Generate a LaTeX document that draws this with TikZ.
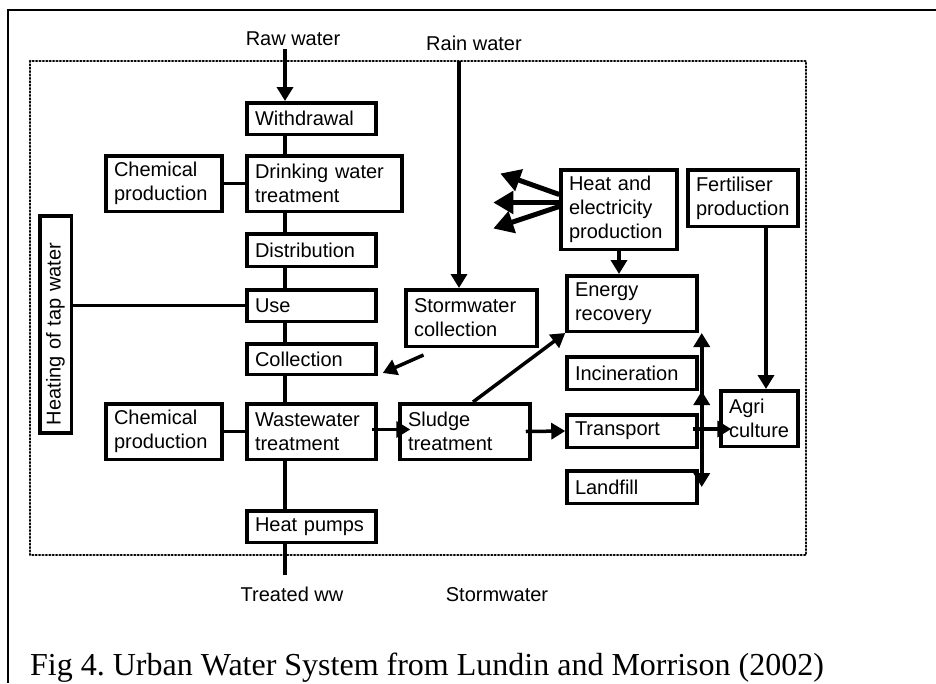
\documentclass[tikz,border=0pt]{standalone}
\usepackage{fontspec}
\setmainfont{Liberation Sans}
\newfontfamily\capfont{Liberation Serif}
\usetikzlibrary{arrows.meta}

\begin{document}
\begin{tikzpicture}[x=1pt, y=-1pt,
  blk/.style={draw, line width=3.5pt, inner xsep=8pt, inner ysep=0pt, align=left, font=\fontsize{20}{24}\selectfont},
  lbl/.style={anchor=base, inner sep=0pt, font=\fontsize{20}{24}\selectfont},
  link/.style={line width=3.5pt},
  arr/.style={line width=3.5pt, -{Triangle[length=14pt,width=16pt]}},
  bigarr/.style={line width=5pt, -{Triangle[length=20pt,width=22pt]}}]
\useasboundingbox (0,0) rectangle (936,683);

% Outer frame and system boundary
\draw[line width=2pt] (936,10) -- (8,10) -- (8,683);
\draw[line width=2.6pt, dash pattern=on 0.8pt off 2.6pt, line cap=round] (30,61) rectangle (806,555);

% Water chain
\node[blk, text width=113pt, minimum height=31.5pt] (withdrawal) at (311.5,118.5) {Withdrawal};
\node[blk, text width=139pt, minimum height=55.5pt] (dwt) at (324.5,183.5) {Drinking water\\treatment};
\node[blk, text width=100pt, minimum height=55.5pt] (chemA) at (164,183.5) {Chemical\\production};
\node[blk, text width=113pt, minimum height=32.5pt] (distribution) at (311.5,250) {Distribution};
\node[blk, text width=113pt, minimum height=31.5pt] (use) at (311.5,305.5) {Use};
\node[blk, text width=113pt, minimum height=30.5pt] (collection) at (311.5,359) {Collection};
\node[blk, text width=113pt, minimum height=55.5pt] (wwt) at (311.5,431.5) {Wastewater\\treatment};
\node[blk, text width=100pt, minimum height=55.5pt] (chemB) at (164,431.5) {Chemical\\production};
\node[blk, text width=113pt, minimum height=31.5pt] (heatpumps) at (311.5,526.5) {Heat pumps};
\node[blk, rotate=90, text width=201pt, minimum height=31.5pt] (heating) at (55.5,324.5) {Heating of tap water};
\node[blk, text width=115pt, minimum height=56.5pt] (storm) at (471.5,318) {Stormwater\\collection};

% Sludge chain
\node[blk, text width=114pt, minimum height=55.5pt] (sludge) at (465,431.5) {Sludge\\treatment};
\node[blk, text width=100pt, minimum height=79.5pt] (heatel) at (619,209.5) {Heat and\\electricity\\production};
\node[blk, text width=94pt, minimum height=56.5pt] (fert) at (743,198) {Fertiliser\\production};
\node[blk, text width=114pt, minimum height=55.5pt] (energy) at (632,303.5) {Energy\\recovery};
\node[blk, text width=114pt, minimum height=32.5pt] (incin) at (632,373) {Incineration};
\node[blk, text width=114pt, minimum height=32.5pt] (transport) at (632,431) {Transport};
\node[blk, text width=114pt, minimum height=32.5pt] (landfill) at (632,487) {Landfill};
\node[blk, text width=61pt, minimum height=55.5pt] (agri) at (759.5,418.5) {Agri\\culture};

% Inputs and outputs
\node[lbl] (raw) at (293,45) {Raw water};
\node[lbl] (rain) at (474,50) {Rain water};
\node[lbl] (treated) at (292,601) {Treated ww};
\node[lbl] (stormout) at (497,601) {Stormwater};
\node[anchor=base west, inner sep=0pt, font=\capfont\fontsize{32}{38}\selectfont] (caption) at (30,675) {\frenchspacing Fig 4. Urban Water System from Lundin and Morrison (2002)};

\coordinate (spine) at (285,0);
\coordinate (rawin) at (285,49);
\coordinate (out) at (285,575);
\coordinate (rainin) at (459,61);
\coordinate (hub) at ([xshift=3pt]transport.east);

% Connectors
\draw[arr] (rawin) -- (withdrawal.north -| spine);
\foreach \a/\b in {withdrawal/dwt, dwt/distribution, distribution/use, use/collection, collection/wwt, wwt/heatpumps}
  \draw[link] (\a.south -| spine) -- (\b.north -| spine);
\draw[link] (heatpumps.south -| spine) -- (out);
\draw[link] (chemA.east) -- (dwt.west);
\draw[link] (chemB.east) -- (wwt.west);
\draw[link] (heating.south |- use.west) -- (use.west);
\draw[arr] (rainin) -- (rainin |- storm.north);
\draw[arr] ([xshift=-48pt,yshift=-7pt]storm.south) -- ([xshift=5pt,yshift=3pt]collection.south east);
\draw[arr] ([xshift=-6pt,yshift=2pt]wwt.east) -- ([xshift=12pt,yshift=2pt]sludge.west);
\draw[arr] ([xshift=-6pt]sludge.east) -- (transport.west);
\draw[arr] ([xshift=8pt]sludge.north) -- (energy.south west);
\draw[arr] (heatel.south) -- (heatel.south |- energy.north);
\draw[bigarr] ([yshift=15pt]heatel.west) -- ++(-59,-21);
\draw[bigarr] ([yshift=7pt]heatel.west) -- ++(-66,0);
\draw[bigarr] ([yshift=3pt]heatel.west) -- ++(-66,22);
\draw[arr] ([xshift=23pt]fert.south) -- ([xshift=6.5pt]agri.north);
\draw[arr] ([xshift=-6pt,yshift=2pt]transport.east) -- ([xshift=12pt,yshift=-10.5pt]agri.west);
\draw[arr] (hub) -- (hub |- energy.south);
\draw[arr] (hub) -- (hub |- incin.south);
\draw[arr] (hub) -- (hub |- landfill.east);
\end{tikzpicture}
\end{document}
